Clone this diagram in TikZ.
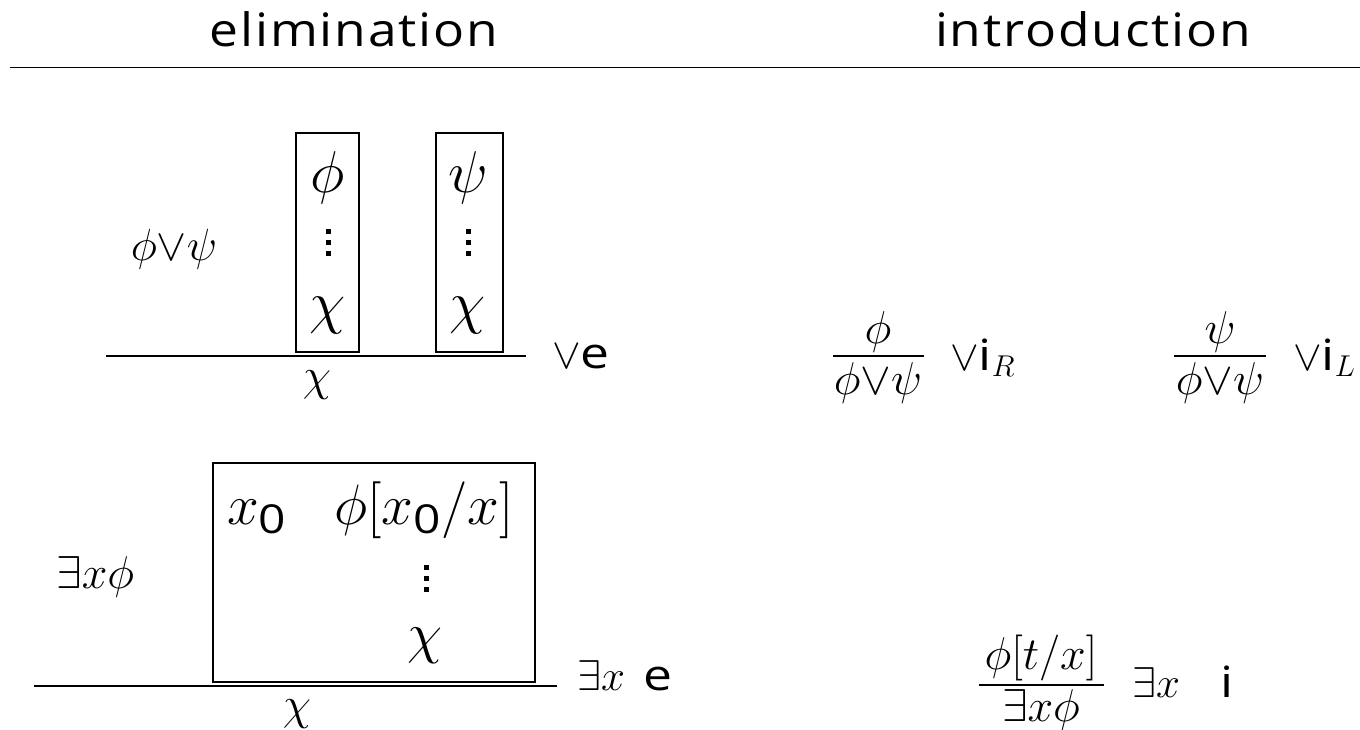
\RequirePackage{fix-cm}
\documentclass[tikz,border=0pt]{standalone}
\usepackage{amsmath}
\usepackage{fontspec}
\setsansfont[FakeStretch=1.2]{Open Sans}
\newfontfamily\ttlfont[FakeStretch=1.12,LetterSpace=4]{Open Sans}
\newcommand\fsz[1]{\fontsize{#1}{#1}\selectfont}
\newcommand\mydots{\vbox{\offinterlineskip\hbox{\rule{5pt}{5pt}}\kern6pt\hbox{\rule{5pt}{5pt}}\kern6pt\hbox{\rule{5pt}{5pt}}}}
\newcommand\zr{\text{\sffamily 0}}
\newcommand\orr{\phi{\vee}\psi}
\tikzset{
  ttl/.style={inner sep=0pt, anchor=base, font=\ttlfont\fsz{46}},
  fbox/.style={draw, line width=1.4pt, inner sep=0pt},
  infrule/.style={line width=1.8pt},
  mbig/.style={inner sep=0pt, anchor=base, font=\fsz{59}},
  mbox/.style={inner sep=0pt, anchor=base, font=\fsz{57}},
  mmid/.style={inner sep=0pt, anchor=base, font=\fsz{46}},
  mor/.style={inner sep=0pt, anchor=base, font=\fsz{46}},
  lbl/.style={inner sep=0pt, anchor=base west, font=\sffamily\fsz{43}},
  dts/.style={inner sep=0pt, anchor=center}
}
\begin{document}
\begin{tikzpicture}[x=1pt,y=-1pt]
\useasboundingbox (0,0) rectangle (1360,730);
% titles
\node[ttl] (telim) at (354,47) {elimination};
\node[ttl] (tintro) at (1093,47) {introduction};
\coordinate (hl) at (10,67.5);
\coordinate (hr) at (1360,67.5);
\draw[infrule] (hl) -- (hr);
% or elimination
\node[mor, font=\fsz{45}] (ore) at (174,260) {$\orr$};
\node[fbox, minimum width=63pt, minimum height=219pt] (b1) at (327.5,242.5) {};
\node[fbox, minimum width=67pt, minimum height=219pt] (b2) at (469.5,242.5) {};
\node[mbig] (b1top) at (328,193) {$\phi$};
\node[mbig] (b2top) at (468,193) {$\psi$};
\node[dts] (b1d) at (328,242) {\mydots};
\node[dts] (b2d) at (468,242) {\mydots};
\node[mbig] (b1bot) at (328,322) {$\chi$};
\node[mbig] (b2bot) at (468,322) {$\chi$};
\coordinate (r1l) at (106,356);
\coordinate (r1r) at (526,356);
\draw[infrule] (r1l) -- (r1r);
\node[mmid] (c1) at (317,390) {$\chi$};
\node[lbl] (l1) at (552,368) {$\vee$e};
% or introduction
\node[mor] (n1) at (878,343) {$\phi$};
\coordinate (f1l) at (833,356);
\coordinate (f1r) at (924,356);
\draw[infrule] (f1l) -- (f1r);
\node[mor] (d1) at (878,394) {$\orr$};
\node[lbl] (l2) at (950,370) {$\vee$i$_R$};
\node[mor] (n2) at (1220,343) {$\psi$};
\coordinate (f2l) at (1174,356);
\coordinate (f2r) at (1266,356);
\draw[infrule] (f2l) -- (f2r);
\node[mor] (d2) at (1220,394) {$\orr$};
\node[lbl] (l3) at (1293,370) {$\vee$i$_L$};
% exists elimination
\node[inner sep=0pt, anchor=base west, font=\fsz{46}] (exprem) at (56,588) {$\exists x\phi$};
\node[fbox, minimum width=322pt, minimum height=219pt] (b3) at (374,572.5) {};
\node[mbox] (x0) at (257,524) {$x_\zr$};
\node[mbox] (sub) at (424,524) {$\phi[x_\zr/x]$};
\node[dts] (b3d) at (426,578) {\mydots};
\node[mbox] (b3bot) at (425,652) {$\chi$};
\coordinate (r3l) at (34,686);
\coordinate (r3r) at (557,686);
\draw[infrule] (r3l) -- (r3r);
\node[mmid] (c3) at (297,719) {$\chi$};
\node[lbl] (l4) at (577,690) {$\exists x$\hspace{18pt}e};
% exists introduction
\node[mmid] (n3) at (1041,669) {$\phi[t/x]$};
\coordinate (f3l) at (979,685);
\coordinate (f3r) at (1104,685);
\draw[infrule] (f3l) -- (f3r);
\node[mmid] (d3) at (1041,721) {$\exists x\phi$};
\node[lbl] (l5) at (1132,697) {$\exists x$\hspace{40pt}i};
\end{tikzpicture}
\end{document}
